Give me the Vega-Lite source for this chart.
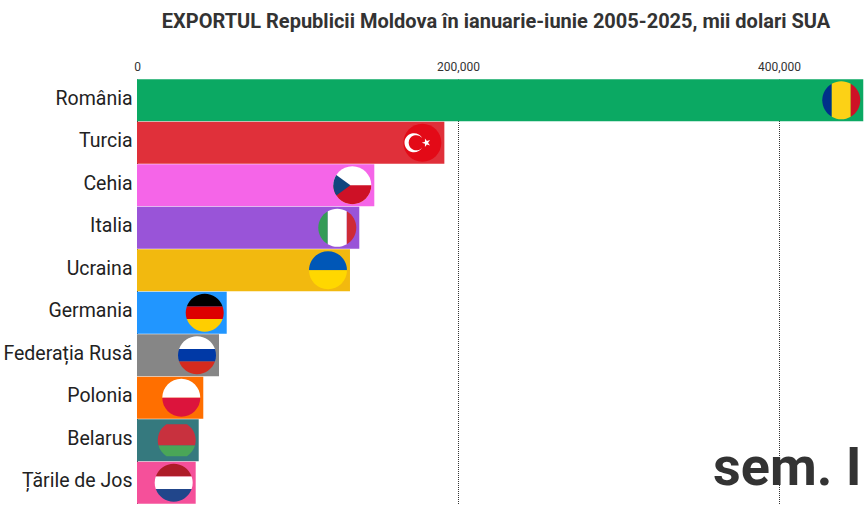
{"$schema":"https://vega.github.io/schema/vega-lite/v6.json","width":728,"height":425,"autosize":{"type":"none"},"padding":{"left":137,"top":79,"right":0,"bottom":1},"background":"white","title":{"text":"EXPORTUL Republicii Moldova în ianuarie-iunie 2005-2025, mii dolari SUA","font":"Roboto","fontWeight":"bold","fontSize":20,"color":"#333333","anchor":"middle","dx":-5,"dy":-24,"frame":"group"},"config":{"view":{"stroke":null},"font":"Roboto"},"datasets":{"bare":[{"tara":"România","valoare":452500},{"tara":"Turcia","valoare":191500},{"tara":"Cehia","valoare":147850},{"tara":"Italia","valoare":138500},{"tara":"Ucraina","valoare":132700},{"tara":"Germania","valoare":55900},{"tara":"Federația Rusă","valoare":51100},{"tara":"Polonia","valoare":41300},{"tara":"Belarus","valoare":38450},{"tara":"Țările de Jos","valoare":36570}],"steaguri":[{"tara":"România","parte":"v1","culoare":"albastru"},{"tara":"România","parte":"v2","culoare":"galben"},{"tara":"România","parte":"v3","culoare":"rosu"},{"tara":"Turcia","parte":"disc","culoare":"rosu_tr"},{"tara":"Turcia","parte":"semiluna","culoare":"alb"},{"tara":"Turcia","parte":"stea","culoare":"alb"},{"tara":"Cehia","parte":"disc","culoare":"alb"},{"tara":"Cehia","parte":"jos","culoare":"rosu"},{"tara":"Cehia","parte":"triunghi","culoare":"albastru_cz"},{"tara":"Italia","parte":"v1","culoare":"verde"},{"tara":"Italia","parte":"v2","culoare":"alb"},{"tara":"Italia","parte":"v3","culoare":"rosu_it"},{"tara":"Ucraina","parte":"sus","culoare":"albastru_ua"},{"tara":"Ucraina","parte":"jos","culoare":"galben_ua"},{"tara":"Germania","parte":"h1","culoare":"negru"},{"tara":"Germania","parte":"h2","culoare":"rosu_de"},{"tara":"Germania","parte":"h3","culoare":"galben_de"},{"tara":"Federația Rusă","parte":"h1","culoare":"alb"},{"tara":"Federația Rusă","parte":"h2","culoare":"albastru_ru"},{"tara":"Federația Rusă","parte":"h3","culoare":"rosu_ru"},{"tara":"Polonia","parte":"sus","culoare":"alb"},{"tara":"Polonia","parte":"jos","culoare":"rosu_pl"},{"tara":"Belarus","parte":"by1","culoare":"rosu_by"},{"tara":"Belarus","parte":"by2","culoare":"verde_by"},{"tara":"Țările de Jos","parte":"h1","culoare":"rosu_nl"},{"tara":"Țările de Jos","parte":"h2","culoare":"alb"},{"tara":"Țările de Jos","parte":"h3","culoare":"albastru_nl"}]},"encoding":{"x":{"field":"valoare","type":"quantitative","stack":false,"scale":{"domain":[0,453583],"nice":false,"range":[0,728]},"axis":{"orient":"top","values":[0,200000,400000],"format":",d","title":null,"domain":false,"ticks":false,"labelFontSize":12,"labelColor":"#333333","labelPadding":6,"labelFont":"Roboto","labelFlush":false,"grid":true,"gridColor":"#333333","gridOpacity":1,"gridDash":[1,1],"gridDashOffset":0.5,"gridWidth":1}},"y":{"field":"tara","type":"nominal","sort":["România","Turcia","Cehia","Italia","Ucraina","Germania","Federația Rusă","Polonia","Belarus","Țările de Jos"],"scale":{"paddingInner":0.01,"paddingOuter":0.005},"axis":{"title":null,"domain":false,"ticks":false,"labelFontSize":19.5,"labelFont":"Roboto","labelColor":"#222222","labelPadding":5,"labelLimit":200,"labelOffset":-1.5}}},"layer":[{"data":{"name":"bare"},"mark":{"type":"bar","opacity":1},"encoding":{"color":{"field":"tara","type":"nominal","legend":null,"scale":{"domain":["România","Turcia","Cehia","Italia","Ucraina","Germania","Federația Rusă","Polonia","Belarus","Țările de Jos"],"range":["#0BA963","#E0303A","#F565E8","#9954D8","#F2B90F","#2196FF","#868686","#FF6F00","#35797E","#F5509A"]}}}},{"data":{"name":"steaguri"},"transform":[{"lookup":"tara","from":{"data":{"name":"bare"},"key":"tara","fields":["valoare"]}}],"mark":{"type":"point","filled":true,"opacity":1,"size":1444,"xOffset":-22,"strokeWidth":0},"encoding":{"shape":{"field":"parte","type":"nominal","legend":null,"scale":{"domain":["disc","sus","jos","v1","v2","v3","h1","h2","h3","by1","by2","semiluna","stea","triunghi"],"range":["M-1,0A1,1 0 1,1 1,0A1,1 0 1,1 -1,0Z","M-1,0A1,1 0 0,1 1,0Z","M-1,0A1,1 0 0,0 1,0Z","M-0.5,-0.866A1,1 0 0,0 -0.5,0.866Z","M-0.5,-0.866A1,1 0 0,1 0.5,-0.866L0.5,0.866A1,1 0 0,1 -0.5,0.866Z","M0.5,-0.866A1,1 0 0,1 0.5,0.866Z","M-0.9428,-0.3333A1,1 0 0,1 0.9428,-0.3333Z","M-0.9428,-0.3333L0.9428,-0.3333A1,1 0 0,1 0.9428,0.3333L-0.9428,0.3333A1,1 0 0,1 -0.9428,-0.3333Z","M-0.9428,0.3333L0.9428,0.3333A1,1 0 0,1 -0.9428,0.3333Z","M-0.54,-0.84L0.54,-0.84A1,1 0 0,1 0.96,0.28L-0.96,0.28A1,1 0 0,1 -0.54,-0.84Z","M-0.96,0.28L0.96,0.28A1,1 0 0,1 0.54,0.84L-0.54,0.84A1,1 0 0,1 -0.96,0.28Z","M-0.005,-0.246A0.5,0.5 0 1,0 -0.005,0.246A0.4,0.4 0 1,1 -0.005,-0.246Z","M-0.03,0L0.137,-0.053L0.136,-0.228L0.238,-0.086L0.404,-0.141L0.3,0L0.404,0.141L0.238,0.086L0.136,0.228L0.137,0.053Z","M-0.84,-0.54L-0.1,0L-0.84,0.54A1,1 0 0,1 -0.84,-0.54Z"]}},"color":{"field":"culoare","type":"nominal","legend":null,"scale":{"domain":["albastru","galben","rosu","rosu_tr","alb","albastru_cz","verde","rosu_it","albastru_ua","galben_ua","negru","rosu_de","galben_de","albastru_ru","rosu_ru","rosu_pl","rosu_by","verde_by","rosu_nl","albastru_nl"],"range":["#00308A","#FCD116","#CE1126","#E30A17","#FFFFFF","#11457E","#349B57","#CE2B37","#0057B7","#FFD700","#000000","#DD0000","#FFCE00","#0039A6","#D52B1E","#DC143C","#C8313E","#4AA657","#AE1C28","#21468B"]}}}},{"data":{"values":[{"eticheta":"sem. I","valoare":451500,"tara":"Țările de Jos"}]},"mark":{"type":"text","align":"right","baseline":"alphabetic","font":"Roboto","fontWeight":"bold","fontSize":54,"color":"#333333","dy":2},"encoding":{"text":{"field":"eticheta"}}}],"resolve":{"scale":{"color":"independent"}}}
